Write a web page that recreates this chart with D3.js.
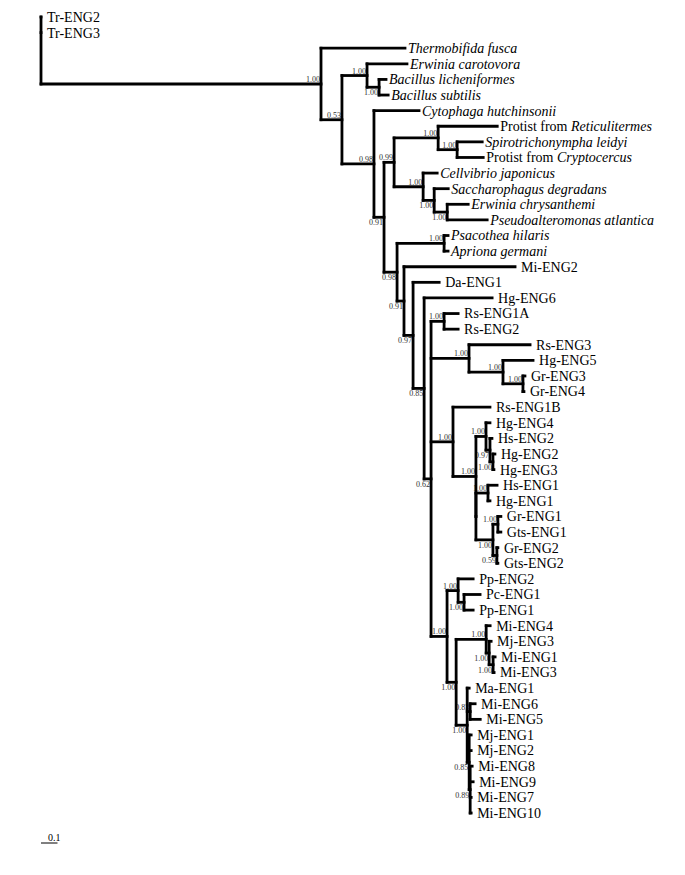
<!DOCTYPE html>
<html><head><meta charset="utf-8">
<script src="https://cdn.jsdelivr.net/npm/d3@7"></script>
<style>body{margin:0;background:#fff}</style>
</head><body><svg id="c" width="685" height="875"></svg>
<script>
// [node, parent, branch length]
const branches = [
 ["root","",0],
 ["Tr-ENG2","root",0],
 ["Tr-ENG3","root",0],
 ["N1","root",1.697],
 ["Thermobifida fusca","N1",0.509],
 ["N2","N1",0.127],
 ["N3","N2",0.152],
 ["Erwinia carotovora","N3",0.242],
 ["N5","N3",0.073],
 ["Bacillus licheniformes","N5",0.042],
 ["Bacillus subtilis","N5",0.055],
 ["N4","N2",0.194],
 ["Cytophaga hutchinsonii","N4",0.273],
 ["N6","N4",0.061],
 ["N7","N6",0.061],
 ["N8","N7",0.267],
 ["Protist from|Reticulitermes","N8",0.358],
 ["N9","N8",0.115],
 ["Spirotrichonympha leidyi","N9",0.152],
 ["Protist from|Cryptocercus","N9",0.158],
 ["N10","N7",0.176],
 ["Cellvibrio japonicus","N10",0.085],
 ["N11","N10",0.067],
 ["Saccharophagus degradans","N11",0.085],
 ["N12","N11",0.079],
 ["Erwinia chrysanthemi","N12",0.127],
 ["Pseudoalteromonas atlantica","N12",0.242],
 ["N13","N6",0.079],
 ["N14","N13",0.285],
 ["Psacothea hilaris","N14",0.024],
 ["Apriona germani","N14",0.024],
 ["N15","N13",0.042],
 ["Mi-ENG2","N15",0.673],
 ["N16","N15",0.055],
 ["Da-ENG1","N16",0.158],
 ["N17","N16",0.067],
 ["Hg-ENG6","N17",0.412],
 ["N18","N17",0.042],
 ["N19","N18",0.079],
 ["Rs-ENG1A","N19",0.085],
 ["Rs-ENG2","N19",0.085],
 ["N20","N18",0.230],
 ["Rs-ENG3","N20",0.370],
 ["N21","N20",0.206],
 ["Hg-ENG5","N21",0.182],
 ["N22","N21",0.121],
 ["Gr-ENG3","N22",0.012],
 ["Gr-ENG4","N22",0.006],
 ["N23","N18",0.133],
 ["Rs-ENG1B","N23",0.224],
 ["N24","N23",0.139],
 ["N25","N24",0.061],
 ["Hg-ENG4","N25",0.024],
 ["N26","N25",0.024],
 ["Hs-ENG2","N26",0.012],
 ["N27","N26",0.018],
 ["Hg-ENG2","N27",0.012],
 ["Hg-ENG3","N27",0.006],
 ["N24b","N24",0],
 ["N28","N24b",0.073],
 ["Hs-ENG1","N28",0.055],
 ["Hg-ENG1","N28",0.012],
 ["N29","N24b",0.103],
 ["N30","N29",0.030],
 ["Gr-ENG1","N30",0.018],
 ["Gts-ENG1","N30",0.018],
 ["N31","N29",0.024],
 ["Gr-ENG2","N31",0.006],
 ["Gts-ENG2","N31",0.006],
 ["N32","N18",0.097],
 ["N33","N32",0.067],
 ["Pp-ENG2","N33",0.091],
 ["N34","N33",0.036],
 ["Pc-ENG1","N34",0.097],
 ["Pp-ENG1","N34",0.055],
 ["N35","N32",0.055],
 ["N36","N35",0.182],
 ["Mi-ENG4","N36",0.024],
 ["N37","N36",0.018],
 ["Mj-ENG3","N37",0.012],
 ["N38","N37",0.024],
 ["Mi-ENG1","N38",0.012],
 ["Mi-ENG3","N38",0.006],
 ["N39","N35",0.067],
 ["Ma-ENG1","N39",0.012],
 ["N40","N39",0.018],
 ["Mi-ENG6","N40",0.030],
 ["Mi-ENG5","N40",0.061],
 ["N41","N39",0.012],
 ["Mj-ENG1","N41",0.012],
 ["Mj-ENG2","N41",0.012],
 ["N42","N41",0.006],
 ["Mi-ENG8","N42",0.012],
 ["Mi-ENG9","N42",0.018],
 ["Mi-ENG7","N42",0.006],
 ["Mi-ENG10","N42",0.006]
];

// posterior support values at internal nodes
const supportValues = [
 ["N1","1.00"],["N2","0.53"],["N3","1.00"],["N5","1.00"],["N4","0.98"],["N6","0.91"],
 ["N7","0.99"],["N8","1.00"],["N9","1.00"],["N10","1.00"],["N11","1.00"],["N12","1.00"],
 ["N13","0.98"],["N14","1.00"],["N15","0.91"],["N16","0.97"],["N17","0.85"],["N18","0.62"],
 ["N19","1.00"],["N20","1.00"],["N21","1.00"],["N22","1.00"],["N23","1.00"],["N24","1.00"],
 ["N25","1.00"],["N26","0.97"],["N27","1.00"],["N28","1.00"],["N29","1.00"],["N30","1.00"],
 ["N31","0.59"],["N32","1.00"],["N33","1.00"],["N34","1.00"],["N35","1.00"],["N36","1.00"],
 ["N37","1.00"],["N38","1.00"],["N39","1.00"],["N40","0.83"],["N41","0.85"],["N42","0.89"]
];

// support labels drawn under their branch
const labelsBelow = ["N5","N6","N11","N12","N13","N15","N16","N17","N18","N26","N27","N29","N31","N34","N35","N37","N38","N39","N41","N42"];

const scaleBarValue = 0.1;

const FONT = "'Liberation Serif', 'Times New Roman', Times, serif";
const svg = d3.select("#c");
const root = d3.stratify().id(d => d[0]).parentId(d => d[1] || null)(branches);

root.eachBefore(n => { n.len = n.parent ? n.parent.len + n.data[2] : 0; });
const leaves = root.leaves();
const xScale = d3.scaleLinear().domain([0, 1]).range([41, 206]);
const yScale = d3.scaleLinear().domain([0, leaves.length - 1]).range([17, 813]);
leaves.forEach((l, i) => { l.yy = yScale(i); });
root.eachAfter(n => {
  if (n.children) n.yy = (n.children[0].yy + n.children[n.children.length - 1].yy) / 2;
});

const g = svg.append("g");
const supportMap = new Map(supportValues);
const below = new Set(labelsBelow);

// support labels
root.descendants().forEach(n => {
  if (!supportMap.has(n.id)) return;
  g.append("text")
    .attr("x", xScale(n.len) - 1)
    .attr("y", below.has(n.id) ? n.yy + 8 : n.yy - 2)
    .attr("text-anchor", "end")
    .style("font-family", FONT)
    .attr("font-size", 8)
    .attr("fill", "#333")
    .text(supportMap.get(n.id));
});

const lines = g.append("g").attr("stroke", "#000").attr("stroke-width", 2.8).attr("stroke-linecap", "square").attr("fill", "none");
root.descendants().forEach(n => {
  if (n.parent) {
    lines.append("line")
      .attr("x1", xScale(n.parent.len)).attr("x2", xScale(n.len))
      .attr("y1", n.yy).attr("y2", n.yy);
  }
  if (n.children) {
    lines.append("line")
      .attr("x1", xScale(n.len)).attr("x2", xScale(n.len))
      .attr("y1", n.children[0].yy).attr("y2", n.children[n.children.length - 1].yy);
  }
});

// leaf labels
leaves.forEach(l => {
  const isGene = /ENG/.test(l.id);
  const t = g.append("text")
    .attr("x", xScale(l.len) + (isGene ? 6 : 3))
    .attr("y", l.yy)
    .attr("dy", "0.35em")
    .style("font-family", FONT)
    .attr("font-size", 14)
    .attr("fill", "#000");
  if (l.id.includes("|")) {
    const [a, b] = l.id.split("|");
    t.append("tspan").text(a + "\u00a0");
    t.append("tspan").attr("font-style", "italic").text(b);
  } else {
    t.attr("font-style", isGene ? "normal" : "italic").text(l.id);
  }
});

// scale bar
g.append("line")
  .attr("x1", xScale(0)).attr("x2", xScale(scaleBarValue))
  .attr("y1", 843).attr("y2", 843)
  .attr("stroke", "#000").attr("stroke-width", 1);
g.append("text")
  .attr("x", xScale(0) + 7).attr("y", 841)
  .style("font-family", FONT)
  .attr("font-size", 10)
  .text(String(scaleBarValue));
</script>
</body></html>
